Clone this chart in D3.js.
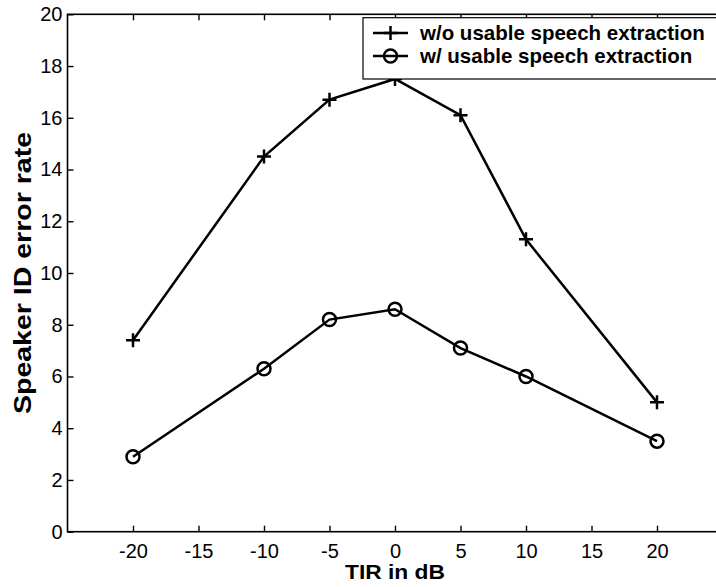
<!DOCTYPE html>
<html><head><meta charset="utf-8">
<script src="https://cdn.jsdelivr.net/npm/d3@7"></script>
<style>body{margin:0;background:#fff}svg{display:block}</style>
</head><body>
<svg id="c" width="716" height="587"></svg>
<script>
const tir = [-20, -10, -5, 0, 5, 10, 20];
const without = [7.4, 14.5, 16.7, 17.5, 16.1, 11.3, 5.0];
const withExt = [2.9, 6.3, 8.2, 8.6, 7.1, 6.0, 3.5];
const xTicks = [-20, -15, -10, -5, 0, 5, 10, 15, 20];
const yTicks = [0, 2, 4, 6, 8, 10, 12, 14, 16, 18, 20];
const seriesNames = ["w/o usable speech extraction", "w/ usable speech extraction"];

const svg = d3.select("#c");
const L = 67.5, R = 722.5, T = 14.3, B = 531.7;
const x = d3.scaleLinear().domain([-25, 25]).range([L, R]);
const y = d3.scaleLinear().domain([0, 20]).range([B, T]);
const font = "Arial, 'Liberation Sans', Helvetica, sans-serif";

svg.append("rect").attr("x", L).attr("y", T).attr("width", R - L).attr("height", B - T)
  .attr("fill", "none").attr("stroke", "#000").attr("stroke-width", 1.6);

const tl = 6;
const fmt = d => String(d);
const gx = svg.append("g").attr("transform", `translate(0,${B})`)
  .call(d3.axisBottom(x).tickValues(xTicks).tickSizeInner(-tl).tickSizeOuter(0).tickPadding(12).tickFormat(fmt));
const gxt = svg.append("g").attr("transform", `translate(0,${T})`)
  .call(d3.axisTop(x).tickValues(xTicks).tickSizeInner(-tl).tickSizeOuter(0).tickFormat(""));
const gy = svg.append("g").attr("transform", `translate(${L},0)`)
  .call(d3.axisLeft(y).tickValues(yTicks).tickSizeInner(-tl).tickSizeOuter(0).tickPadding(5).tickFormat(fmt));
const gyr = svg.append("g").attr("transform", `translate(${R},0)`)
  .call(d3.axisRight(y).tickValues(yTicks).tickSizeInner(-tl).tickSizeOuter(0).tickFormat(""));
[gx, gxt, gy, gyr].forEach(g => {
  g.select(".domain").remove();
  g.selectAll(".tick line").attr("stroke", "#000").attr("stroke-width", 1.4);
  g.selectAll("text").attr("font-family", font).attr("font-size", 20).attr("fill", "#000");
});

svg.append("text").attr("x", 395).attr("y", 579).attr("text-anchor", "middle")
  .attr("font-family", font).attr("font-weight", "bold").attr("font-size", 20)
  .attr("textLength", 100).attr("lengthAdjust", "spacingAndGlyphs").text("TIR in dB");
svg.append("text").attr("transform", `translate(31,273) rotate(-90)`)
  .attr("text-anchor", "middle")
  .attr("font-family", font).attr("font-weight", "bold").attr("font-size", 23)
  .attr("textLength", 282).attr("lengthAdjust", "spacingAndGlyphs").text("Speaker ID error rate");

const line = d3.line().x((d, i) => x(tir[i])).y(d => y(d));
const sw = 2.5;
function drawCross(g, cx, cy, s) {
  g.append("path").attr("d", `M${cx - s},${cy}H${cx + s}M${cx},${cy - s}V${cy + s}`)
    .attr("stroke", "#000").attr("stroke-width", sw).attr("fill", "none");
}
function drawCircle(g, cx, cy, r) {
  g.append("circle").attr("cx", cx).attr("cy", cy).attr("r", r)
    .attr("fill", "none").attr("stroke", "#000").attr("stroke-width", sw);
}

svg.append("path").datum(without).attr("d", line).attr("fill", "none").attr("stroke", "#000").attr("stroke-width", sw);
svg.append("path").datum(withExt).attr("d", line).attr("fill", "none").attr("stroke", "#000").attr("stroke-width", sw);
const gm = svg.append("g");
without.forEach((v, i) => drawCross(gm, x(tir[i]), y(v), 7));
withExt.forEach((v, i) => drawCircle(gm, x(tir[i]), y(v), 6.5));

const lg = svg.append("g");
lg.append("rect").attr("x", 363).attr("y", 17.7).attr("width", 380).attr("height", 61.3)
  .attr("fill", "#fff").attr("stroke", "#000").attr("stroke-width", 1.2);
const rows = [33, 56];
rows.forEach((ry, k) => {
  lg.append("line").attr("x1", 373).attr("x2", 408).attr("y1", ry).attr("y2", ry)
    .attr("stroke", "#000").attr("stroke-width", sw);
  if (k === 0) drawCross(lg, 390.5, ry, 7); else drawCircle(lg, 390.5, ry, 6.5);
  lg.append("text").attr("x", 420).attr("y", ry + 7)
    .attr("font-family", font).attr("font-weight", "bold").attr("font-size", 20.5).text(seriesNames[k]);
});
</script>
</body></html>
